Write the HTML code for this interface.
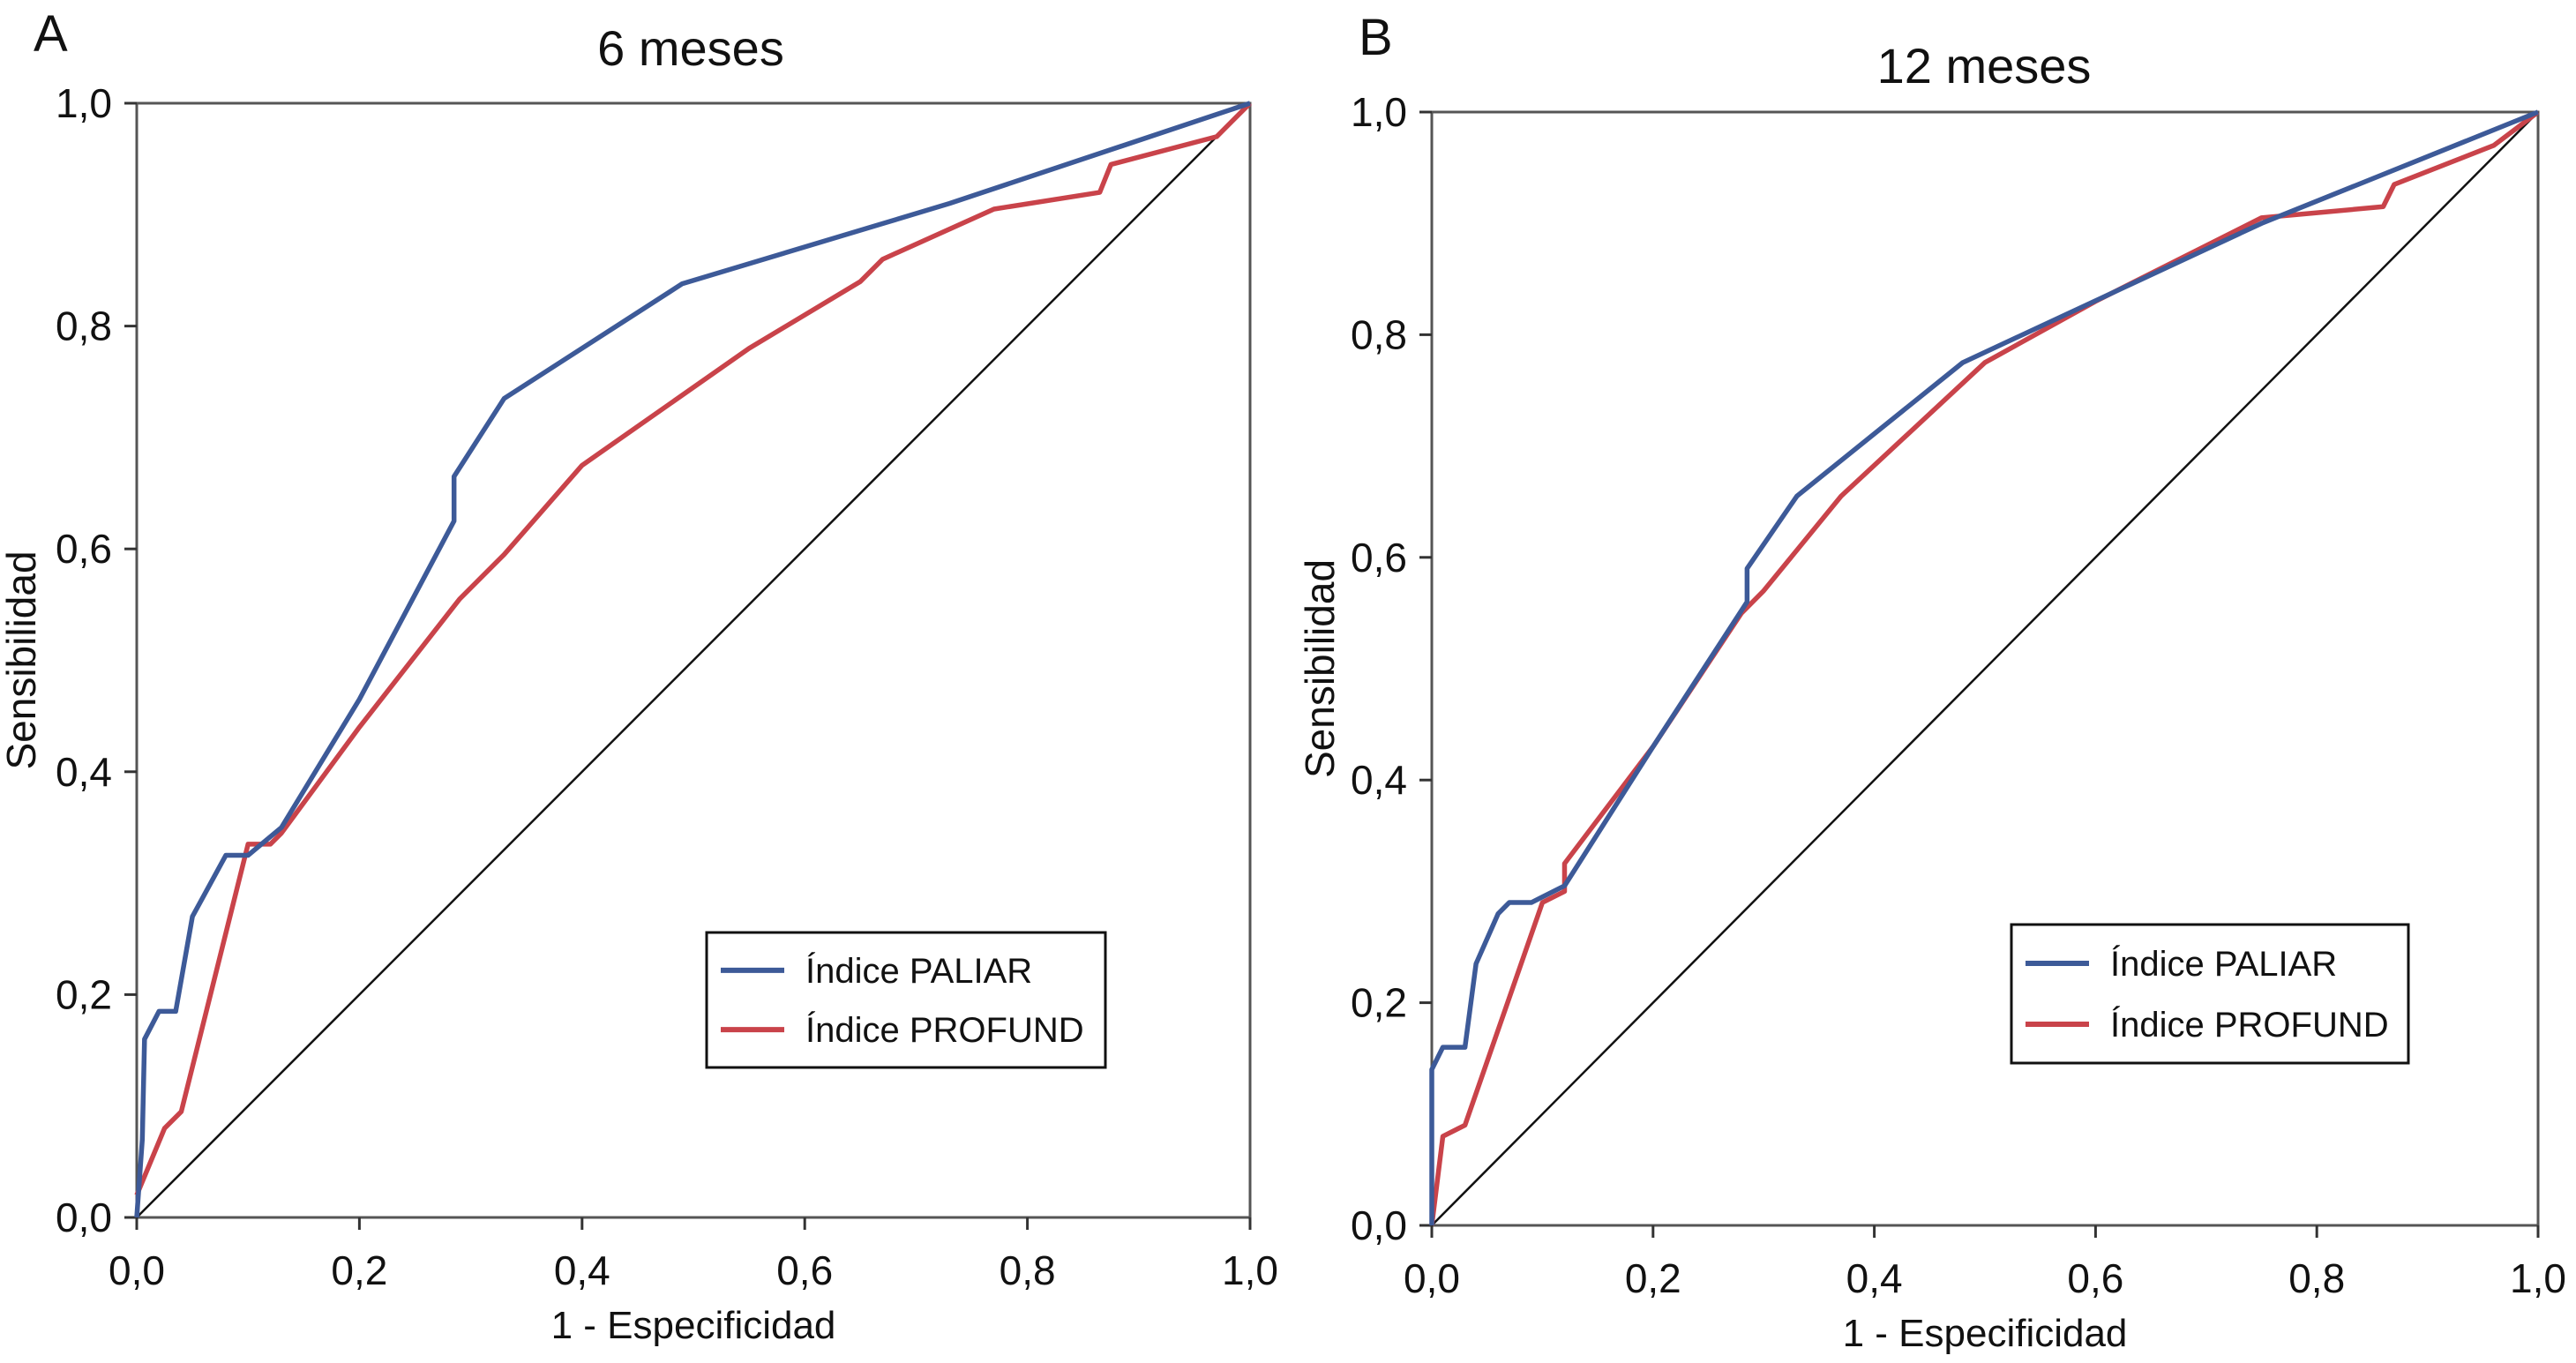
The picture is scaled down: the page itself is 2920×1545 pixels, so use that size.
<!DOCTYPE html>
<html><head><meta charset="utf-8"><style>
html,body{margin:0;padding:0;background:#fff}
svg{display:block}
text{font-family:"Liberation Sans",sans-serif;fill:#111}
</style></head><body>
<svg id="fig" width="2920" height="1545" viewBox="0 0 2920 1545" xmlns="http://www.w3.org/2000/svg"></svg>
<script>
const ticks = [0,0.2,0.4,0.6,0.8,1.0];
const tickLabels = ["0,0","0,2","0,4","0,6","0,8","1,0"];
const legendLabels = ["Índice PALIAR","Índice PROFUND"];
const palA_x = [0,0.005,0.007,0.02,0.035,0.05,0.08,0.1,0.13,0.2,0.285,0.285,0.33,0.49,0.73,1];
const palA_y = [0,0.07,0.16,0.185,0.185,0.27,0.325,0.325,0.35,0.465,0.625,0.665,0.735,0.838,0.91,1];
const proA_x = [0,0.025,0.04,0.1,0.12,0.13,0.2,0.29,0.33,0.4,0.55,0.65,0.67,0.77,0.865,0.875,0.97,1];
const proA_y = [0.02,0.08,0.095,0.335,0.335,0.345,0.44,0.555,0.595,0.675,0.78,0.84,0.86,0.905,0.92,0.945,0.97,1];
const palB_x = [0,0,0.01,0.03,0.04,0.06,0.07,0.09,0.12,0.2,0.285,0.285,0.33,0.48,0.75,1];
const palB_y = [0,0.14,0.16,0.16,0.235,0.28,0.29,0.29,0.305,0.43,0.56,0.59,0.655,0.775,0.9,1];
const proB_x = [0,0.01,0.03,0.1,0.12,0.12,0.2,0.28,0.3,0.37,0.5,0.6,0.75,0.86,0.87,0.96,1];
const proB_y = [0,0.08,0.09,0.29,0.3,0.325,0.43,0.55,0.57,0.655,0.775,0.83,0.905,0.915,0.935,0.97,1];

const NS="http://www.w3.org/2000/svg";
const svg=document.getElementById('fig');
function mk(tag,attrs,parent){const e=document.createElementNS(NS,tag);for(const k in attrs)e.setAttribute(k,attrs[k]);(parent||svg).appendChild(e);return e;}

function panel(p){
  const g=mk('g',{});
  
  
  const sx=v=>p.x0+(p.x1-p.x0)*v, sy=v=>p.y0+(p.y1-p.y0)*v;
  const letter=mk('text',{x:p.lx,y:p.ly,'font-size':58},g);letter.textContent=p.letter;
  
  
  const t=mk('text',{x:p.tx,y:p.ty,'font-size':56,'text-anchor':'middle'},g);t.textContent=p.title;
  
  
  const frame=mk('rect',{x:p.x0,y:p.y1,width:p.x1-p.x0,height:p.y0-p.y1,fill:'none',stroke:'#555',"stroke-width":3},g);
  
  
  ticks.forEach((v,i)=>{
    mk('line',{x1:sx(v),x2:sx(v),y1:p.y0,y2:p.y0+14,stroke:'#333','stroke-width':3},g);
    const xl=mk('text',{x:sx(v),y:p.y0+76,'font-size':46,'text-anchor':'middle'},g);xl.textContent=tickLabels[i];
    
    
    mk('line',{x1:p.x0-14,x2:p.x0,y1:sy(v),y2:sy(v),stroke:'#333','stroke-width':3},g);
    const yl=mk('text',{x:p.x0-28,y:sy(v)+16,'font-size':46,'text-anchor':'end'},g);yl.textContent=tickLabels[i];
    
    
  });
  const xt=mk('text',{x:(p.x0+p.x1)/2,y:p.y0+137,'font-size':44,'text-anchor':'middle'},g);xt.textContent='1 - Especificidad';
  
  
  const yc=(p.y0+p.y1)/2;
  const yt=mk('text',{x:p.ytx,y:yc,'font-size':46,'text-anchor':'middle',transform:`rotate(-90 ${p.ytx} ${yc})`},g);yt.textContent='Sensibilidad';
  
  
  const diag=mk('line',{x1:sx(0),y1:sy(0),x2:sx(1),y2:sy(1),stroke:'#111','stroke-width':2.5},g);
  
  
  const series=[[p.rx,p.ry,'#c9434a','profund-curve'],[p.bx,p.by,'#3d5a98','paliar-curve']];
  series.forEach(s=>{
    const pts=s[0].map((v,i)=>sx(v)+','+sy(s[1][i])).join(' ');
    const pl=mk('polyline',{points:pts,fill:'none',stroke:s[2],'stroke-width':5.5,'stroke-linejoin':'round'},g);
    
    
  });
  const lg=mk('g',{},g);
  
  
  mk('rect',{x:p.lgx,y:p.lgy,width:p.lgw,height:p.lgh,fill:'#fff',stroke:'#111','stroke-width':3},lg);
  const cols=['#3d5a98','#c9434a'];
  legendLabels.forEach((lab,i)=>{
    const yy=p.lgy+p.lgh*(i===0?0.28:0.72);
    mk('line',{x1:p.lgx+16,x2:p.lgx+88,y1:yy,y2:yy,stroke:cols[i],'stroke-width':6},lg);
    const lt=mk('text',{x:p.lgx+112,y:yy+14,'font-size':40},lg);lt.textContent=lab;
    
    
  });
}
panel({id:'a',letter:'A',lx:38,ly:58,title:'6 meses',tx:783,ty:74,x0:155,x1:1417,y0:1380,y1:117,ytx:40,
  bx:palA_x,by:palA_y,rx:proA_x,ry:proA_y,lgx:801,lgy:1057,lgw:452,lgh:153});
panel({id:'b',letter:'B',lx:1540,ly:62,title:'12 meses',tx:2249,ty:94,x0:1623,x1:2877,y0:1389,y1:127,ytx:1512,
  bx:palB_x,by:palB_y,rx:proB_x,ry:proB_y,lgx:2280,lgy:1048,lgw:450,lgh:157});
</script>
</body></html>
